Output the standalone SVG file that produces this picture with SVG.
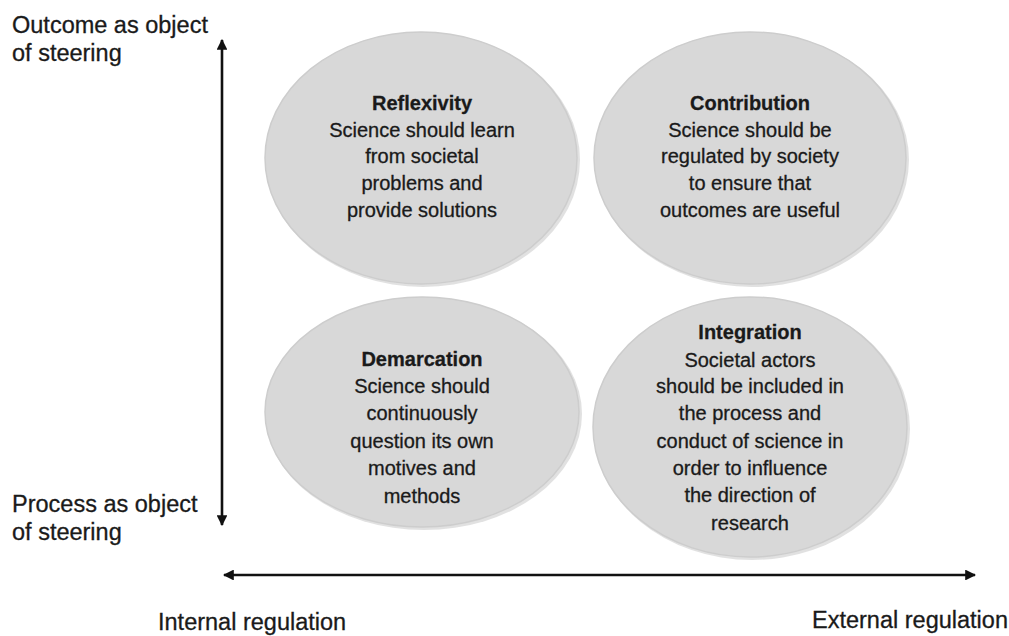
<svg xmlns="http://www.w3.org/2000/svg" width="1009" height="636" viewBox="0 0 1009 636">
<style>
.bub{fill:#d8d8d8;stroke:#cdcdcd;stroke-width:1.5}
.shadow{fill:#c4c4c4;opacity:0.5}
.t{font-family:"Liberation Sans",Arial,sans-serif;font-size:20px;fill:#1a1a1a;stroke:#1a1a1a;stroke-width:0.3;text-anchor:middle}
.b{font-weight:bold}
.ax{font-family:"Liberation Sans",Arial,sans-serif;font-size:23.5px;fill:#1a1a1a;stroke:#1a1a1a;stroke-width:0.3}
.axis{stroke:#111;stroke-width:2.6;fill:none}
</style>
<defs>
<marker id="ah" viewBox="0 0 10 10" refX="9" refY="5" markerWidth="4.2" markerHeight="4.2" markerUnits="strokeWidth" orient="auto-start-reverse">
<path d="M0,0 L10,5 L0,10 Z" fill="#111"/>
</marker>
</defs>
<rect width="1009" height="636" fill="#ffffff"/>
<g id="reflexivity">
<ellipse class="shadow" cx="423" cy="160" rx="157" ry="127"/>
<ellipse class="bub" cx="421" cy="158" rx="156" ry="126"/>
<text class="t b" x="422" y="110">Reflexivity</text>
<text class="t" x="422" y="137">Science should learn</text>
<text class="t" x="422" y="163">from societal</text>
<text class="t" x="422" y="190">problems and</text>
<text class="t" x="422" y="217">provide solutions</text>
</g>
<g id="contribution">
<ellipse class="shadow" cx="752" cy="160" rx="157" ry="127"/>
<ellipse class="bub" cx="750" cy="158" rx="156" ry="126"/>
<text class="t b" x="750" y="110">Contribution</text>
<text class="t" x="750" y="137">Science should be</text>
<text class="t" x="750" y="163">regulated by society</text>
<text class="t" x="750" y="190">to ensure that</text>
<text class="t" x="750" y="217">outcomes are useful</text>
</g>
<g id="demarcation">
<ellipse class="shadow" cx="424" cy="414" rx="158" ry="116"/>
<ellipse class="bub" cx="422" cy="412" rx="157" ry="115"/>
<text class="t b" x="422" y="366">Demarcation</text>
<text class="t" x="422" y="393">Science should</text>
<text class="t" x="422" y="420">continuously</text>
<text class="t" x="422" y="448">question its own</text>
<text class="t" x="422" y="475">motives and</text>
<text class="t" x="422" y="503">methods</text>
</g>
<g id="integration">
<ellipse class="shadow" cx="752" cy="429" rx="158" ry="131"/>
<ellipse class="bub" cx="750" cy="427" rx="157" ry="130"/>
<text class="t b" x="750" y="339">Integration</text>
<text class="t" x="750" y="367">Societal actors</text>
<text class="t" x="750" y="393">should be included in</text>
<text class="t" x="750" y="420">the process and</text>
<text class="t" x="750" y="448">conduct of science in</text>
<text class="t" x="750" y="475">order to influence</text>
<text class="t" x="750" y="502">the direction of</text>
<text class="t" x="750" y="530">research</text>
</g>
<g id="connectors">
<line class="axis" x1="222" y1="40" x2="222" y2="525" marker-start="url(#ah)" marker-end="url(#ah)"/>
<line class="axis" x1="224" y1="575" x2="975" y2="575" marker-start="url(#ah)" marker-end="url(#ah)"/>
</g>
<g id="labels">
<text class="ax" x="12" y="33">Outcome as object</text>
<text class="ax" x="12" y="61">of steering</text>
<text class="ax" x="12" y="512">Process as object</text>
<text class="ax" x="12" y="540">of steering</text>
<text class="ax" x="158" y="630">Internal regulation</text>
<text class="ax" x="812" y="628">External regulation</text>
</g>
</svg>
